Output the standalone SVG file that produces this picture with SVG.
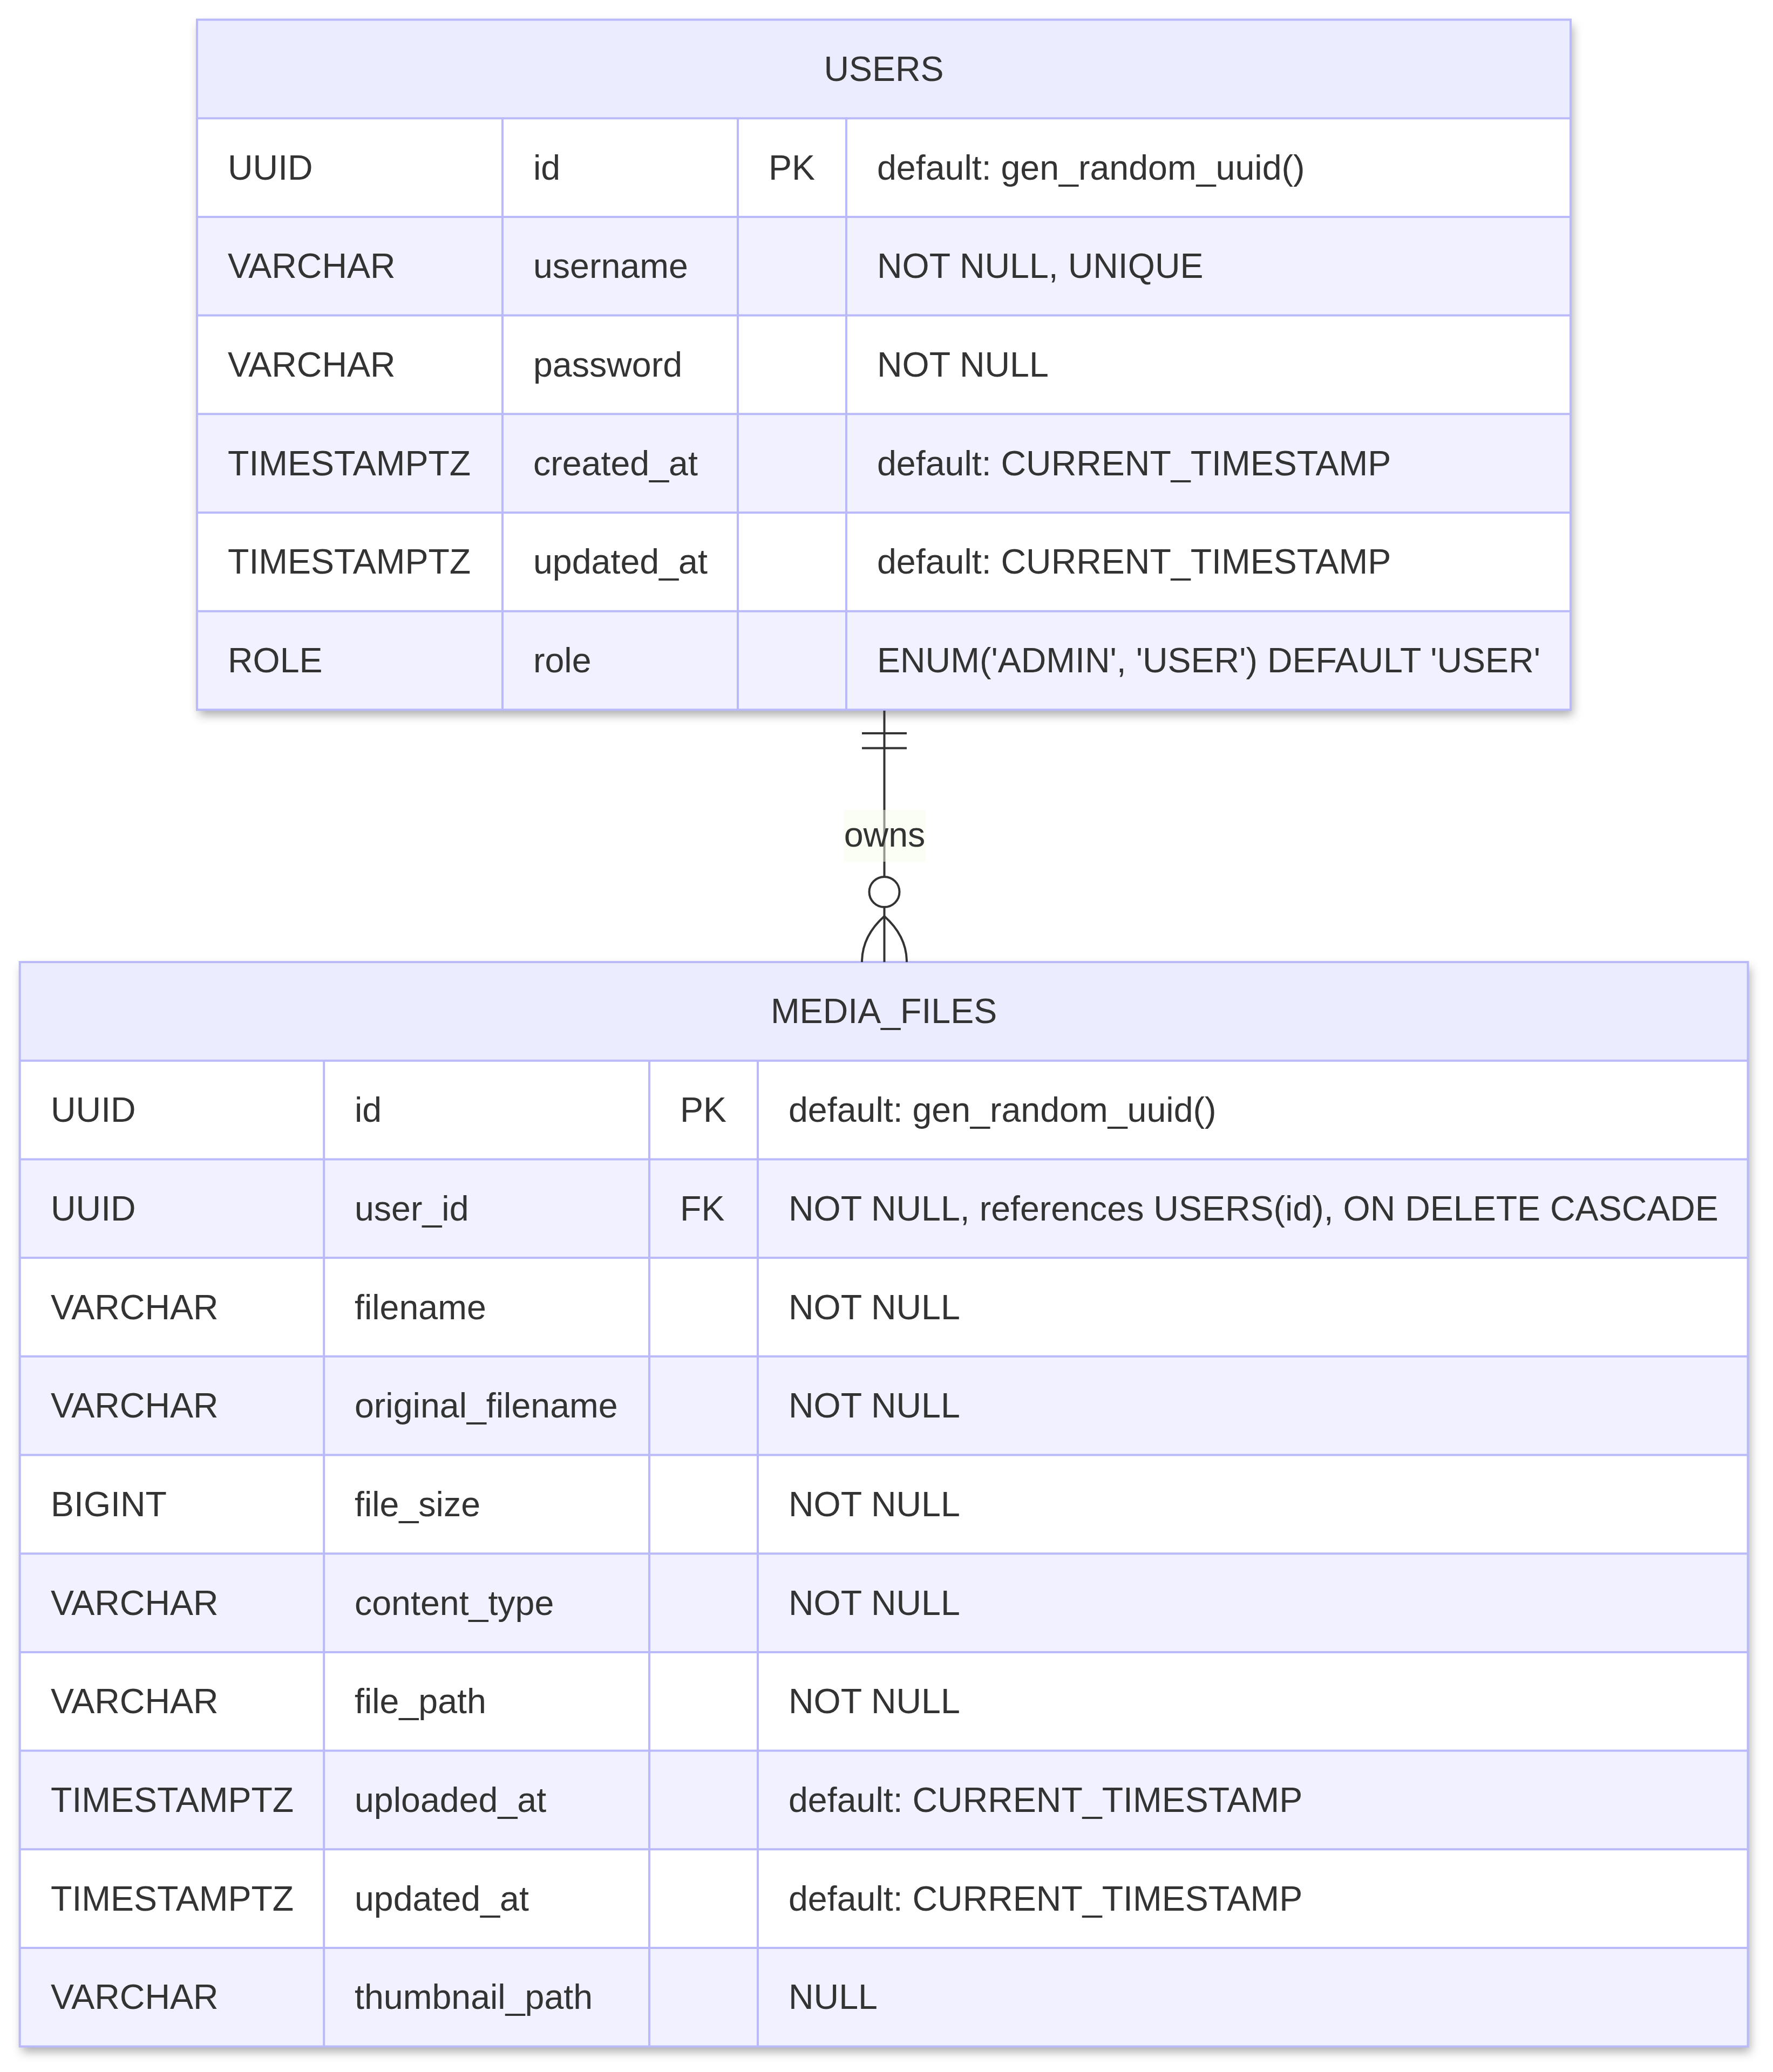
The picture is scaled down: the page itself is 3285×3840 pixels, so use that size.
<svg xmlns="http://www.w3.org/2000/svg" width="3285" height="3840" viewBox="0 0 3285 3840">
  <style>
    .hdr { fill: #ECECFF; }
    .odd { fill: #FFFFFF; }
    .even { fill: #F1F1FF; }
    .grid { stroke: #BABAFA; stroke-width: 4; fill: none; }
    .box { fill: #FFFFFF; filter: url(#shadow); }
    .t { font-family: "Liberation Sans", Arial, Helvetica, sans-serif; font-size: 64.5px; fill: #333333; }
    .c { text-anchor: middle; }
    .rel { stroke: #333333; stroke-width: 4; fill: none; }
    .lblbg { fill: rgb(247,253,233); fill-opacity: 0.5; }
  </style>
  <defs>
    <filter id="shadow" x="-5%" y="-5%" width="110%" height="115%">
      <feDropShadow dx="4" dy="10" stdDeviation="9" flood-color="#000000" flood-opacity="0.32"/>
    </filter>
  </defs>
  <rect width="3285" height="3840" fill="#FFFFFF"/>

  <!-- USERS entity -->
  <g id="users">
    <rect class="box" x="365" y="36.5" width="2545" height="1278.9"/>
    <rect class="hdr" x="365" y="36.5" width="2545" height="182.7"/>
    <rect class="odd" x="365" y="219.2" width="2545" height="182.7"/>
    <rect class="even" x="365" y="401.9" width="2545" height="182.7"/>
    <rect class="odd" x="365" y="584.6" width="2545" height="182.7"/>
    <rect class="even" x="365" y="767.3" width="2545" height="182.7"/>
    <rect class="odd" x="365" y="950" width="2545" height="182.7"/>
    <rect class="even" x="365" y="1132.7" width="2545" height="182.7"/>
    <path class="grid" d="M365,219.2H2910 M365,401.9H2910 M365,584.6H2910 M365,767.3H2910 M365,950H2910 M365,1132.7H2910 M931,219.2V1315.4 M1367,219.2V1315.4 M1568,219.2V1315.4"/>
    <rect class="grid" x="365" y="36.5" width="2545" height="1278.9"/>
    <text class="t c" x="1637.5" y="150">USERS</text>
    <text class="t" x="422" y="332.5">UUID</text>
    <text class="t" x="988" y="332.5">id</text>
    <text class="t" x="1424" y="332.5">PK</text>
    <text class="t" x="1625" y="332.5">default: gen_random_uuid()</text>
    <text class="t" x="422" y="515.3">VARCHAR</text>
    <text class="t" x="988" y="515.3">username</text>
    <text class="t" x="1625" y="515.3">NOT NULL, UNIQUE</text>
    <text class="t" x="422" y="698">VARCHAR</text>
    <text class="t" x="988" y="698">password</text>
    <text class="t" x="1625" y="698">NOT NULL</text>
    <text class="t" x="422" y="880.7">TIMESTAMPTZ</text>
    <text class="t" x="988" y="880.7">created_at</text>
    <text class="t" x="1625" y="880.7">default: CURRENT_TIMESTAMP</text>
    <text class="t" x="422" y="1063.4">TIMESTAMPTZ</text>
    <text class="t" x="988" y="1063.4">updated_at</text>
    <text class="t" x="1625" y="1063.4">default: CURRENT_TIMESTAMP</text>
    <text class="t" x="422" y="1246">ROLE</text>
    <text class="t" x="988" y="1246">role</text>
    <text class="t" x="1625" y="1246">ENUM('ADMIN', 'USER') DEFAULT 'USER'</text>
  </g>

  <!-- MEDIA_FILES entity -->
  <g id="media_files">
    <rect class="box" x="36.7" y="1783" width="3201.8" height="2009.7"/>
    <rect class="hdr" x="36.7" y="1783" width="3201.8" height="182.7"/>
    <rect class="odd" x="36.7" y="1965.7" width="3201.8" height="182.7"/>
    <rect class="even" x="36.7" y="2148.4" width="3201.8" height="182.7"/>
    <rect class="odd" x="36.7" y="2331.1" width="3201.8" height="182.7"/>
    <rect class="even" x="36.7" y="2513.8" width="3201.8" height="182.7"/>
    <rect class="odd" x="36.7" y="2696.5" width="3201.8" height="182.7"/>
    <rect class="even" x="36.7" y="2879.2" width="3201.8" height="182.7"/>
    <rect class="odd" x="36.7" y="3061.9" width="3201.8" height="182.7"/>
    <rect class="even" x="36.7" y="3244.6" width="3201.8" height="182.7"/>
    <rect class="odd" x="36.7" y="3427.3" width="3201.8" height="182.7"/>
    <rect class="even" x="36.7" y="3610" width="3201.8" height="182.7"/>
    <path class="grid" d="M36.7,1965.7H3238.5 M36.7,2148.4H3238.5 M36.7,2331.1H3238.5 M36.7,2513.8H3238.5 M36.7,2696.5H3238.5 M36.7,2879.2H3238.5 M36.7,3061.9H3238.5 M36.7,3244.6H3238.5 M36.7,3427.3H3238.5 M36.7,3610H3238.5 M600.2,1965.7V3792.7 M1203,1965.7V3792.7 M1404,1965.7V3792.7"/>
    <rect class="grid" x="36.7" y="1783" width="3201.8" height="2009.7"/>
    <text class="t c" x="1637.6" y="1896.4">MEDIA_FILES</text>
    <text class="t" x="94" y="2079">UUID</text>
    <text class="t" x="657" y="2079">id</text>
    <text class="t" x="1260" y="2079">PK</text>
    <text class="t" x="1461" y="2079">default: gen_random_uuid()</text>
    <text class="t" x="94" y="2261.8">UUID</text>
    <text class="t" x="657" y="2261.8">user_id</text>
    <text class="t" x="1260" y="2261.8">FK</text>
    <text class="t" x="1461" y="2261.8">NOT NULL, references USERS(id), ON DELETE CASCADE</text>
    <text class="t" x="94" y="2444.5">VARCHAR</text>
    <text class="t" x="657" y="2444.5">filename</text>
    <text class="t" x="1461" y="2444.5">NOT NULL</text>
    <text class="t" x="94" y="2627.2">VARCHAR</text>
    <text class="t" x="657" y="2627.2">original_filename</text>
    <text class="t" x="1461" y="2627.2">NOT NULL</text>
    <text class="t" x="94" y="2809.9">BIGINT</text>
    <text class="t" x="657" y="2809.9">file_size</text>
    <text class="t" x="1461" y="2809.9">NOT NULL</text>
    <text class="t" x="94" y="2992.6">VARCHAR</text>
    <text class="t" x="657" y="2992.6">content_type</text>
    <text class="t" x="1461" y="2992.6">NOT NULL</text>
    <text class="t" x="94" y="3175.3">VARCHAR</text>
    <text class="t" x="657" y="3175.3">file_path</text>
    <text class="t" x="1461" y="3175.3">NOT NULL</text>
    <text class="t" x="94" y="3358">TIMESTAMPTZ</text>
    <text class="t" x="657" y="3358">uploaded_at</text>
    <text class="t" x="1461" y="3358">default: CURRENT_TIMESTAMP</text>
    <text class="t" x="94" y="3540.7">TIMESTAMPTZ</text>
    <text class="t" x="657" y="3540.7">updated_at</text>
    <text class="t" x="1461" y="3540.7">default: CURRENT_TIMESTAMP</text>
    <text class="t" x="94" y="3723.4">VARCHAR</text>
    <text class="t" x="657" y="3723.4">thumbnail_path</text>
    <text class="t" x="1461" y="3723.4">NULL</text>
  </g>

  <!-- relationship: one user owns zero or more media files -->
  <g id="connectors">
    <path class="rel" d="M1638.5,1317V1625 M1638.5,1681V1783"/>
    <!-- exactly-one end -->
    <path class="rel" d="M1597,1359H1680 M1597,1386.5H1680"/>
    <!-- zero-or-more end -->
    <circle class="rel" cx="1638.5" cy="1653" r="28"/>
    <path class="rel" d="M1638.5,1698Q1597,1735 1597,1783 M1638.5,1698Q1680,1735 1680,1783"/>
    <rect class="lblbg" x="1563" y="1501" width="152" height="96"/>
    <text class="t c" x="1639" y="1569">owns</text>
  </g>
</svg>
